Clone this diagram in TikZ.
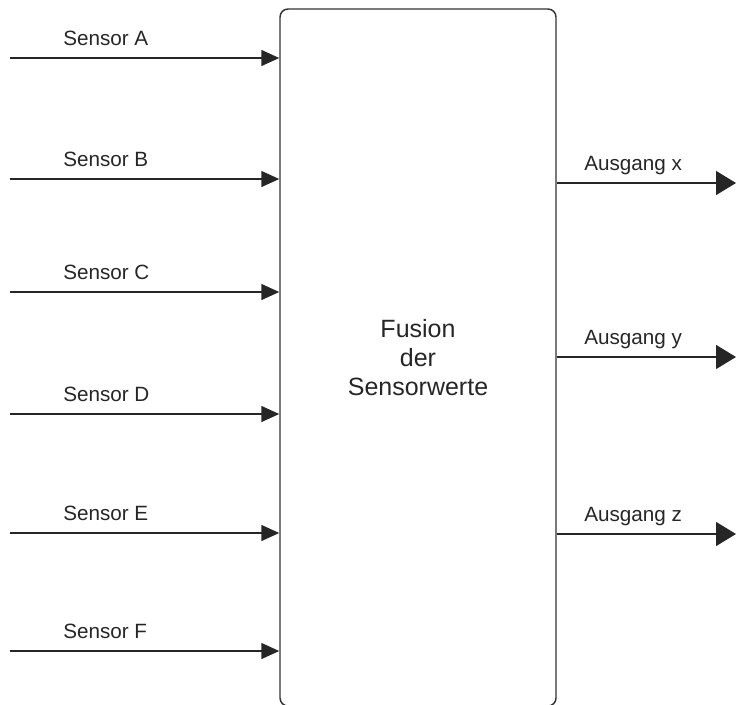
\documentclass[tikz,border=0pt]{standalone}
\usepackage{fontspec}
\setmainfont{Liberation Sans}
\usetikzlibrary{arrows.meta}

\tikzset{
  insig/.style={line width=1.1pt, draw=black!85, -{Triangle[length=13.5pt,width=12pt]}},
  outsig/.style={line width=1.1pt, draw=black!85, -{Triangle[length=15pt,width=18pt]}},
  siglabel/.style={anchor=base west, inner sep=0pt, font=\fontsize{15.5pt}{18pt}\selectfont, text=black!85},
}

\begin{document}
\begin{tikzpicture}[x=0.75pt,y=-0.75pt]
\useasboundingbox (0,0) rectangle (736,704);
\node[draw=black!80, line width=1.1pt, rounded corners=6pt, minimum width=207pt, minimum height=522.75pt,
  align=center, font=\fontsize{18.75pt}{21.75pt}\selectfont, text=black!85] (fusion) at (418,357.5)
  {Fusion\\der\\Sensorwerte};
\coordinate (inA) at (10,58);
\coordinate (inB) at (10,179);
\coordinate (inC) at (10,292);
\coordinate (inD) at (10,414);
\coordinate (inE) at (10,533);
\coordinate (inF) at (10,651);
\coordinate (outX) at (736,183);
\coordinate (outY) at (736,357);
\coordinate (outZ) at (736,534);
\draw[insig] (inA) -- (inA -| fusion.west);
\draw[insig] (inB) -- (inB -| fusion.west);
\draw[insig] (inC) -- (inC -| fusion.west);
\draw[insig] (inD) -- (inD -| fusion.west);
\draw[insig] (inE) -- (inE -| fusion.west);
\draw[insig] (inF) -- (inF -| fusion.west);
\draw[outsig] (outX -| fusion.east) -- (outX);
\draw[outsig] (outY -| fusion.east) -- (outY);
\draw[outsig] (outZ -| fusion.east) -- (outZ);
\node[siglabel] (labA) at (63,45) {Sensor A};
\node[siglabel] (labB) at (63,166) {Sensor B};
\node[siglabel] (labC) at (63,279) {Sensor C};
\node[siglabel] (labD) at (63,401) {Sensor D};
\node[siglabel] (labE) at (63,520) {Sensor E};
\node[siglabel] (labF) at (63,638) {Sensor F};
\node[siglabel] (labX) at (584,170) {Ausgang x};
\node[siglabel] (labY) at (584,344) {Ausgang y};
\node[siglabel] (labZ) at (584,521) {Ausgang z};
\end{tikzpicture}
\end{document}
